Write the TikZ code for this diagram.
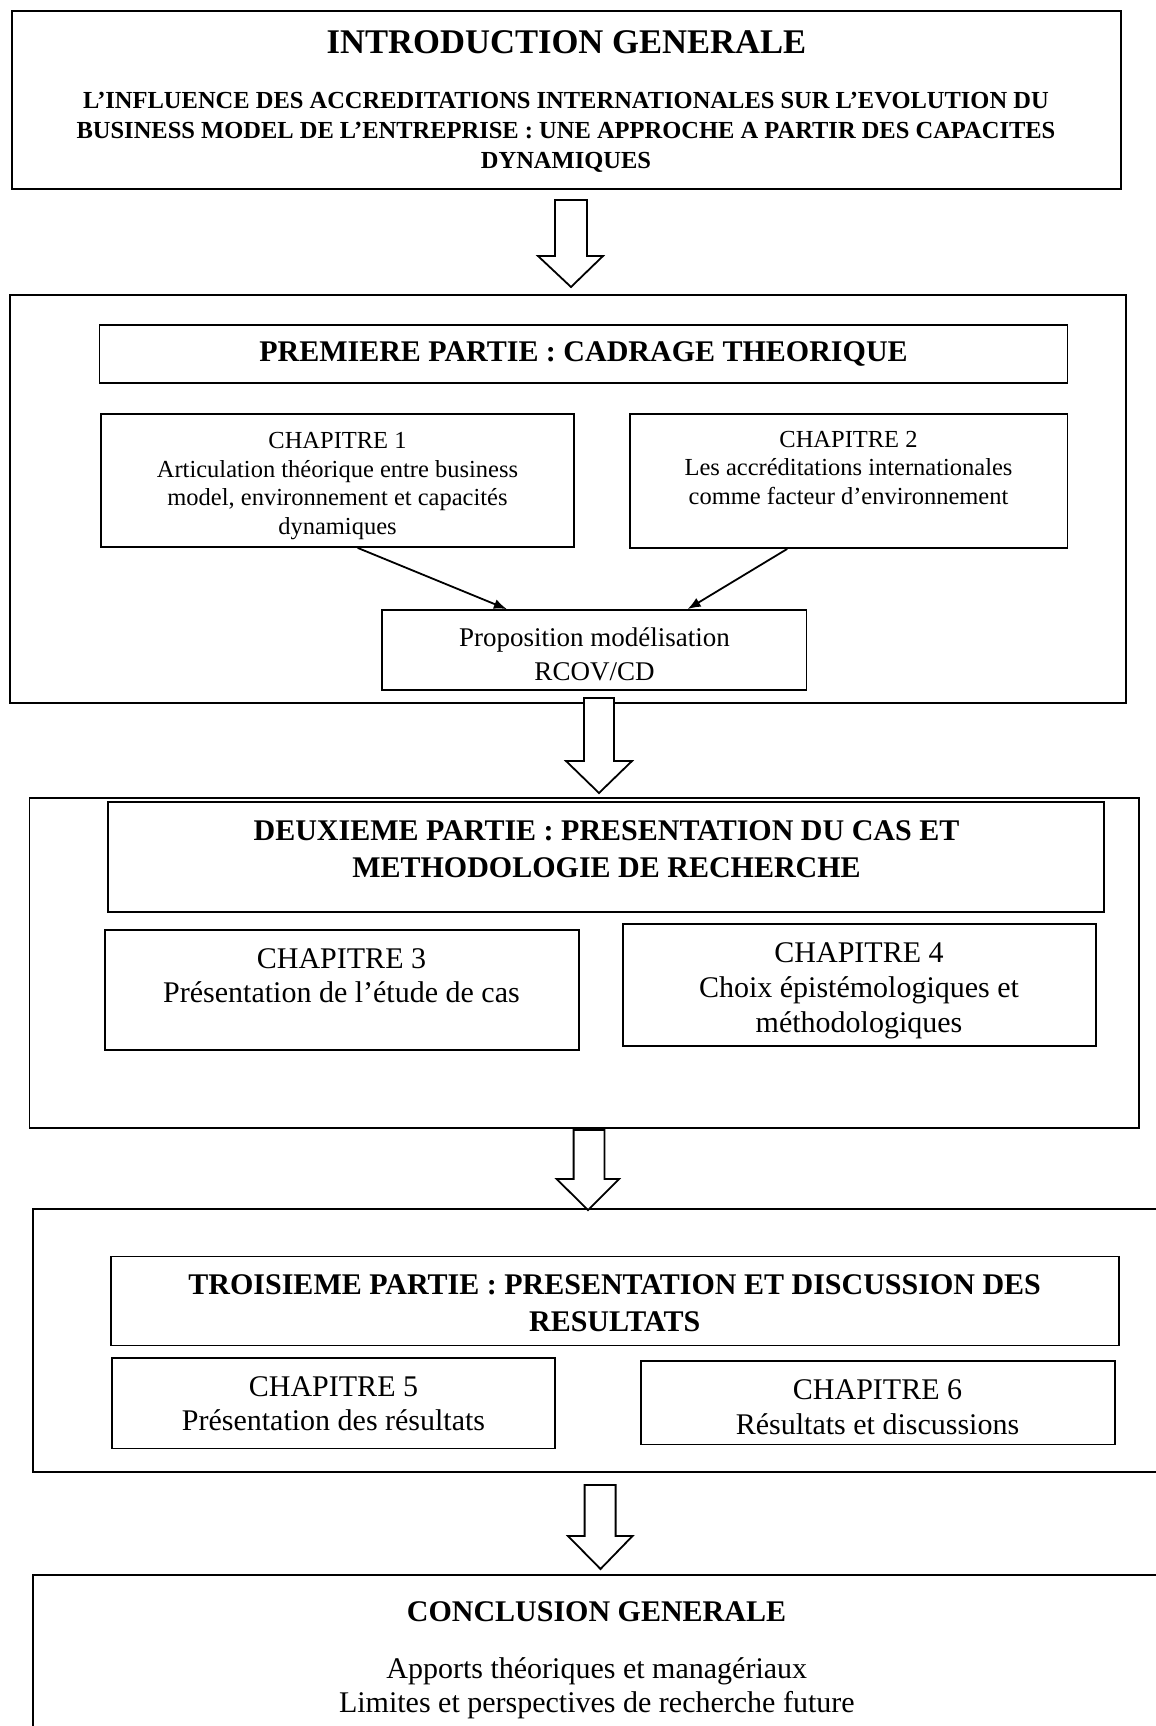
\documentclass[tikz,border=0pt]{standalone}
\usepackage{fontspec}
\setmainfont{Liberation Serif}
\usetikzlibrary{arrows.meta,calc,fit}
\begin{document}
\begin{tikzpicture}[x=1pt,y=-1pt,
  box/.style={draw, line width=1.8pt, inner sep=0pt},
  conn/.style={line width=1.8pt, -{Latex[length=13pt,width=10pt]}},
  barrow/.style={draw, line width=1.8pt, fill=white, line join=miter},
  ttl/.style={font=\fontsize{34.6}{40}\selectfont\bfseries},
  sub/.style={font=\fontsize{24.5}{30}\selectfont\bfseries, align=center},
  part/.style={font=\fontsize{30}{36.5}\selectfont\bfseries, align=center},
  chs/.style={font=\fontsize{24.5}{28.9}\selectfont, align=center},
  prp/.style={font=\fontsize{27}{34}\selectfont, align=center},
  chl/.style={font=\fontsize{30}{34}\selectfont, align=center}]
\useasboundingbox (0,0) rectangle (1156,1726);
\clip (0,0) rectangle (1156,1726);

% ---------- Introduction
\node[box, fit={(12,11) (1121,189)}] (intro) {};
\node[ttl] (introT) at (566.5,42) {INTRODUCTION GENERALE};
\node[sub] (introS) at (566,132) {L’INFLUENCE DES ACCREDITATIONS INTERNATIONALES SUR L’EVOLUTION DU\\BUSINESS MODEL DE L’ENTREPRISE : UNE APPROCHE A PARTIR DES CAPACITES\\DYNAMIQUES};

% ---------- Partie 1
\node[box, fit={(9.6,295) (1126,703)}] (p1) {};
\node[box, fit={(99.5,325) (1067.5,383)}] (p1t) {};
\node[part] (p1tT) at (583.5,354) {PREMIERE PARTIE : CADRAGE THEORIQUE};
\node[box, fit={(101,414) (574,547)}] (ch1) {};
\node[chs] (ch1T) at (337.5,486) {CHAPITRE 1\\Articulation théorique entre business\\model, environnement et capacités\\dynamiques};
\node[box, fit={(630,414) (1067.5,548)}] (ch2) {};
\node[chs] (ch2T) at (848.5,468) {CHAPITRE 2\\Les accréditations internationales\\comme facteur d’environnement};
\node[box, fit={(382,610) (806.5,690)}] (prop) {};
\node[prp] (propT) at (594.5,654.6) {Proposition modélisation\\RCOV/CD};
\draw[conn] ($(ch1.south west)!0.5425!(ch1.south east)$) -- ($(prop.north west)!0.295!(prop.north east)$);
\draw[conn] ($(ch2.south west)!0.36!(ch2.south east)$) -- ($(prop.north west)!0.719!(prop.north east)$);

% ---------- Partie 2
\node[box, fit={(29.5,798) (1139,1128)}] (p2) {};
\node[box, fit={(108,802) (1104,912)}] (p2t) {};
\node[part, font=\fontsize{30}{37.2}\selectfont\bfseries] (p2tT) at (606.5,849.4) {DEUXIEME PARTIE : PRESENTATION DU CAS ET\\METHODOLOGIE DE RECHERCHE};
\node[box, fit={(105,930) (579,1050)}] (ch3) {};
\node[chl, font=\fontsize{30}{33.3}\selectfont] (ch3T) at (341.5,975.8) {CHAPITRE 3\\Présentation de l’étude de cas};
\node[box, fit={(623,924) (1096,1046)}] (ch4) {};
\node[chl, font=\fontsize{30}{35}\selectfont] (ch4T) at (859,990.5) {CHAPITRE 4\\Choix épistémologiques et\\méthodologiques};

% ---------- Partie 3
\node[box, fit={(33,1209) (1190,1472)}] (p3) {};
\node[box, fit={(110.6,1256.5) (1119,1345.5)}] (p3t) {};
\node[part] (p3tT) at (614.7,1303) {TROISIEME PARTIE : PRESENTATION ET DISCUSSION DES\\RESULTATS};
\node[box, fit={(112,1358) (555,1448.5)}] (ch5) {};
\node[chl] (ch5T) at (333.5,1404) {CHAPITRE 5\\Présentation des résultats};
\node[box, fit={(641,1360.7) (1115,1444.5)}] (ch6) {};
\node[chl, font=\fontsize{30}{35}\selectfont] (ch6T) at (877.5,1407.5) {CHAPITRE 6\\Résultats et discussions};

% ---------- Conclusion
\node[box, fit={(33,1575) (1180,1760)}] (concl) {};
\node[part] (conclT) at (596.5,1612) {CONCLUSION GENERALE};
\node[chl] (conclS) at (596.8,1688) {Apports théoriques et managériaux\\Limites et perspectives de recherche future};

% ---------- Block arrows
\draw[barrow] (555,200) -- (555,256) -- (538,256) -- (571,287) -- (603,256) -- (587,256) -- (587,200) -- cycle;
\draw[barrow] (584,698) -- (584,761) -- (566,761) -- (599,793) -- (632,761) -- (614,761) -- (614,698) -- cycle;
\draw[barrow] (573.6,1130) -- (573.6,1179) -- (556.6,1179) -- (588,1210) -- (619,1179) -- (604.5,1179) -- (604.5,1130) -- cycle;
\draw[barrow] (584.6,1485) -- (584.6,1536) -- (568,1536) -- (600.5,1569) -- (632.5,1536) -- (615.6,1536) -- (615.6,1485) -- cycle;
\end{tikzpicture}
\end{document}
